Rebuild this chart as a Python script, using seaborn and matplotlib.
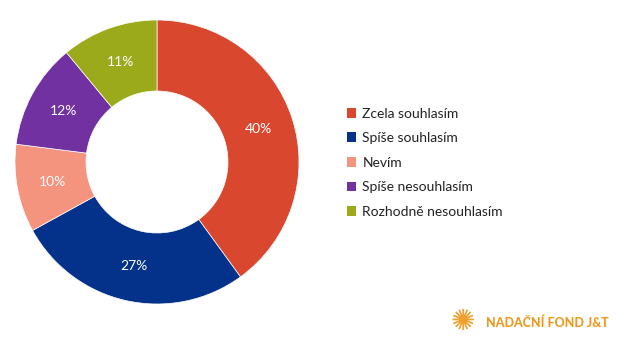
import matplotlib
matplotlib.use("Agg")
import matplotlib.pyplot as plt
import seaborn as sns
from matplotlib.patches import Patch

categories = ["Zcela souhlasím", "Spíše souhlasím", "Nevím", "Spíše nesouhlasím", "Rozhodně nesouhlasím"]
values = [40, 27, 10, 12, 11]
colors = ["#D9482E", "#04318A", "#F4937E", "#7131A1", "#9BAA1A"]

sns.set_theme(style="white")
plt.rcParams['font.family'] = ['Lato', 'DejaVu Sans']

fig = plt.figure(figsize=(6.4, 3.43), dpi=100)
fig.patch.set_facecolor("white")

cx, cy, r = 157, 162, 142
W, H = 640, 343
ax = fig.add_axes([(cx - r) / W, (H - cy - r) / H, 2 * r / W, 2 * r / H])
palette = sns.color_palette(colors)
wedges, texts, autotexts = ax.pie(
    values, colors=palette, startangle=90, counterclock=False,
    radius=1.0, wedgeprops=dict(width=0.5, edgecolor="white", linewidth=0.5),
    autopct=lambda p: f"{p:.0f}%", pctdistance=0.75,
    textprops=dict(color="white", fontsize=10))
ax.set_xlim(-1, 1)
ax.set_ylim(-1, 1)
ax.set_aspect("equal")
ax.axis("off")

handles = [Patch(facecolor=c, edgecolor="none") for c in palette]
leg = fig.legend(handles, categories, loc="upper left",
                 bbox_to_anchor=(334 / W, 1 - 95 / H), frameon=False,
                 fontsize=10, handlelength=0.7, handleheight=0.7,
                 handletextpad=0.45, labelspacing=0.91)
for t in leg.get_texts():
    t.set_color("#222222")

# logo
fig.text(463 / W, 1 - 322 / H, "✺", color="#F0A030", fontsize=21,
         ha="center", va="center", family=["DejaVu Sans"])
fig.text(486 / W, 1 - 323 / H, "NADAČNÍ FOND J&T", color="#EE9A20",
         fontsize=9, fontweight="black", ha="left", va="center")

fig.savefig("out.png", dpi=100, facecolor="white")
